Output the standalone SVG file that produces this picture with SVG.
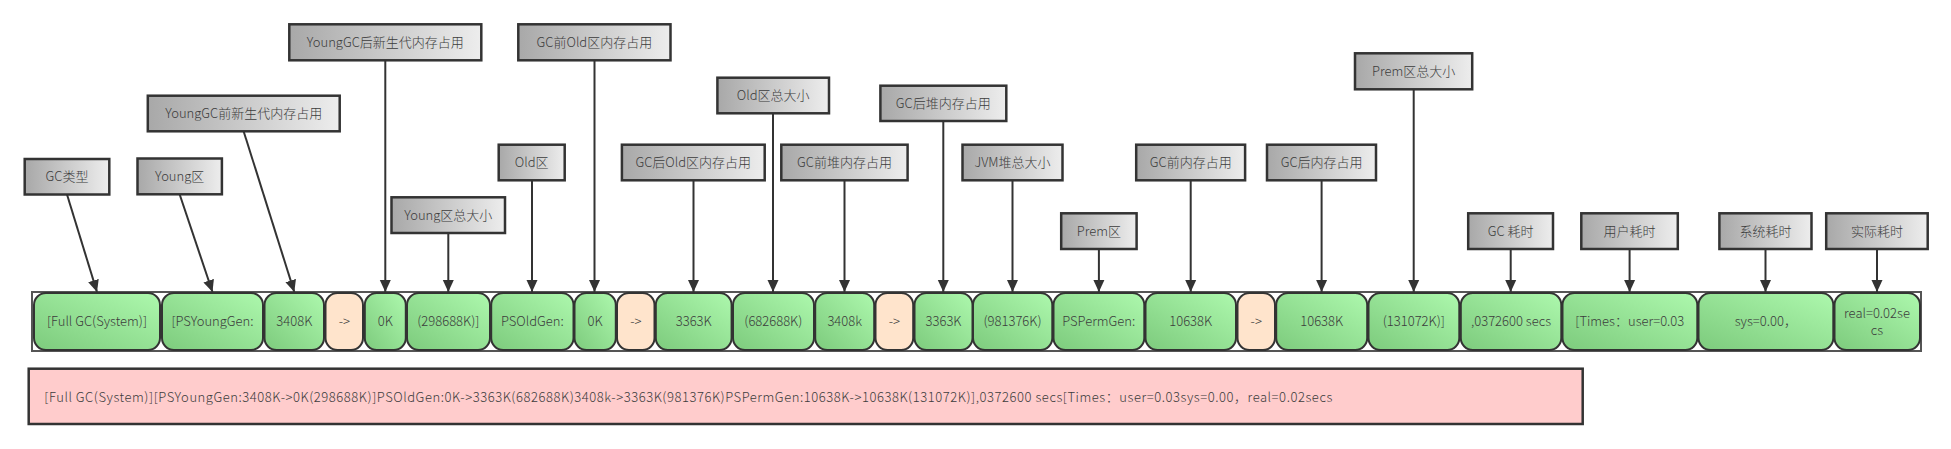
<svg xmlns="http://www.w3.org/2000/svg" width="1951" height="449" viewBox="0 0 1951 449">
<defs>
<linearGradient id="gGreen" x1="0" y1="1" x2="1" y2="0">
<stop offset="0" stop-color="#7dcb7d"/>
<stop offset="1" stop-color="#adf8ad"/>
</linearGradient>
<linearGradient id="gGray" x1="0" y1="0.5" x2="1" y2="0.5">
<stop offset="0" stop-color="#a8a8a8"/>
<stop offset="1" stop-color="#ededed"/>
</linearGradient>
<marker id="arr" markerUnits="userSpaceOnUse" markerWidth="12" markerHeight="12" viewBox="0 0 12 12" refX="12" refY="6" orient="auto">
<path d="M0,0.5 L12,6 L0,11.5 z" fill="#333"/>
</marker>
<style>
text{font-family:"Noto Sans CJK SC","Microsoft YaHei",sans-serif;font-size:13px;font-weight:300;fill:#3c3c3c;text-anchor:middle}
.lbl rect{fill:url(#gGray);stroke:#333;stroke-width:2.5}
.nd rect{fill:url(#gGreen);stroke:#333;stroke-width:2}
.nd.op rect{fill:#ffe4cc}
.con line{stroke:#333;stroke-width:2;marker-end:url(#arr)}
</style>
</defs>
<rect width="1951" height="449" fill="#fff"/>
<rect id="strip" x="32" y="292" width="1889" height="59" fill="#fff" stroke="#555" stroke-width="2"/>
<g id="n1" class="nd"><rect x="34" y="293" width="126" height="57" rx="12"/><text x="97" y="326">[Full GC(System)]</text></g>
<g id="n2" class="nd"><rect x="162" y="293" width="101" height="57" rx="12"/><text x="212.5" y="326">[PSYoungGen:</text></g>
<g id="n3" class="nd"><rect x="264.5" y="293" width="59.5" height="57" rx="12"/><text x="294.3" y="326">3408K</text></g>
<g id="n4" class="nd op"><rect x="325.5" y="293" width="37.5" height="57" rx="12"/><text x="344.3" y="326">-&gt;</text></g>
<g id="n5" class="nd"><rect x="364.8" y="293" width="41" height="57" rx="12"/><text x="385.3" y="326">0K</text></g>
<g id="n6" class="nd"><rect x="407" y="293" width="83" height="57" rx="12"/><text x="448.3" y="326">(298688K)]</text></g>
<g id="n7" class="nd"><rect x="491.2" y="293" width="82.3" height="57" rx="12"/><text x="532.3" y="326">PSOldGen:</text></g>
<g id="n8" class="nd"><rect x="574.5" y="293" width="41.3" height="57" rx="12"/><text x="595" y="326">0K</text></g>
<g id="n9" class="nd op"><rect x="617" y="293" width="37.5" height="57" rx="12"/><text x="635.8" y="326">-&gt;</text></g>
<g id="n10" class="nd"><rect x="655.8" y="293" width="75.8" height="57" rx="12"/><text x="693.7" y="326">3363K</text></g>
<g id="n11" class="nd"><rect x="733" y="293" width="81" height="57" rx="12"/><text x="773.3" y="326">(682688K)</text></g>
<g id="n12" class="nd"><rect x="815.2" y="293" width="59" height="57" rx="12"/><text x="844.7" y="326">3408k</text></g>
<g id="n13" class="nd op"><rect x="875.5" y="293" width="37.7" height="57" rx="12"/><text x="894.3" y="326">-&gt;</text></g>
<g id="n14" class="nd"><rect x="914.5" y="293" width="58" height="57" rx="12"/><text x="943.5" y="326">3363K</text></g>
<g id="n15" class="nd"><rect x="973" y="293" width="79.3" height="57" rx="12"/><text x="1012.5" y="326">(981376K)</text></g>
<g id="n16" class="nd"><rect x="1053.5" y="293" width="90.8" height="57" rx="12"/><text x="1098.8" y="326">PSPermGen:</text></g>
<g id="n17" class="nd"><rect x="1145.5" y="293" width="90.5" height="57" rx="12"/><text x="1190.7" y="326">10638K</text></g>
<g id="n18" class="nd op"><rect x="1237.5" y="293" width="37.5" height="57" rx="12"/><text x="1256.2" y="326">-&gt;</text></g>
<g id="n19" class="nd"><rect x="1276.2" y="293" width="91" height="57" rx="12"/><text x="1321.7" y="326">10638K</text></g>
<g id="n20" class="nd"><rect x="1368.5" y="293" width="90.8" height="57" rx="12"/><text x="1413.8" y="326">(131072K)]</text></g>
<g id="n21" class="nd"><rect x="1460.8" y="293" width="100.5" height="57" rx="12"/><text x="1511" y="326">,0372600 secs</text></g>
<g id="n22" class="nd"><rect x="1562.5" y="293" width="134.8" height="57" rx="12"/><text x="1629.8" y="326">[Times：user=0.03</text></g>
<g id="n23" class="nd"><rect x="1698.5" y="293" width="134.8" height="57" rx="12"/><text x="1765.8" y="326">sys=0.00，</text></g>
<g id="n24" class="nd"><rect x="1834.5" y="293" width="85.5" height="57" rx="12"/><text x="1877" y="318">real=0.02se</text><text x="1877" y="335">cs</text></g>

<g id="l1" class="lbl"><rect x="24.7" y="159" width="84.6" height="35.5"/><text x="67" y="181">GC类型</text></g>
<g id="l2" class="lbl"><rect x="137.5" y="158.5" width="84.4" height="35.8"/><text x="179.7" y="181">Young区</text></g>
<g id="l3" class="lbl"><rect x="147.8" y="95.7" width="191.9" height="35.6"/><text x="243.7" y="118">YoungGC前新生代内存占用</text></g>
<g id="l4" class="lbl"><rect x="289.3" y="24.3" width="192" height="36"/><text x="385.3" y="47">YoungGC后新生代内存占用</text></g>
<g id="l5" class="lbl"><rect x="391.5" y="197.3" width="113.5" height="35.7"/><text x="448.3" y="220">Young区总大小</text></g>
<g id="l6" class="lbl"><rect x="498.7" y="144.7" width="66" height="35.6"/><text x="531.7" y="167">Old区</text></g>
<g id="l7" class="lbl"><rect x="518.3" y="24.3" width="152.2" height="36"/><text x="594.4" y="47">GC前Old区内存占用</text></g>
<g id="l8" class="lbl"><rect x="621.9" y="144.7" width="142.8" height="35.6"/><text x="693.3" y="167">GC后Old区内存占用</text></g>
<g id="l9" class="lbl"><rect x="717.4" y="77.7" width="111.6" height="35.6"/><text x="773.2" y="100">Old区总大小</text></g>
<g id="l10" class="lbl"><rect x="781.3" y="144.7" width="126.3" height="35.6"/><text x="844.5" y="167">GC前堆内存占用</text></g>
<g id="l11" class="lbl"><rect x="880.4" y="85.7" width="125.9" height="35.3"/><text x="943.3" y="108">GC后堆内存占用</text></g>
<g id="l12" class="lbl"><rect x="962.5" y="144.7" width="100" height="35.6"/><text x="1012.5" y="167">JVM堆总大小</text></g>
<g id="l13" class="lbl"><rect x="1061.2" y="213.3" width="75.4" height="35.7"/><text x="1098.9" y="236">Prem区</text></g>
<g id="l14" class="lbl"><rect x="1136.2" y="144.7" width="108.9" height="35.6"/><text x="1190.7" y="167">GC前内存占用</text></g>
<g id="l15" class="lbl"><rect x="1267" y="144.7" width="109" height="35.6"/><text x="1321.6" y="167">GC后内存占用</text></g>
<g id="l16" class="lbl"><rect x="1355" y="53.3" width="117.2" height="36"/><text x="1413.7" y="76">Prem区总大小</text></g>
<g id="l17" class="lbl"><rect x="1468.2" y="213.3" width="84.8" height="35.7"/><text x="1510.7" y="236">GC 耗时</text></g>
<g id="l18" class="lbl"><rect x="1581.3" y="213.3" width="96.5" height="35.7"/><text x="1629.6" y="236">用户耗时</text></g>
<g id="l19" class="lbl"><rect x="1719.4" y="213.3" width="92.1" height="35.7"/><text x="1765.5" y="236">系统耗时</text></g>
<g id="l20" class="lbl"><rect x="1826.2" y="213.3" width="101.5" height="35.7"/><text x="1877" y="236">实际耗时</text></g>

<g id="connectors" class="con">
<line x1="67" y1="194.5" x2="97" y2="292"/>
<line x1="179.7" y1="194.5" x2="212.5" y2="292"/>
<line x1="243.7" y1="131.5" x2="294.3" y2="292"/>
<line x1="385.3" y1="60.5" x2="385.3" y2="292"/>
<line x1="448.3" y1="233" x2="448.3" y2="292"/>
<line x1="532" y1="180.5" x2="532" y2="292"/>
<line x1="594.5" y1="60.5" x2="594.5" y2="292"/>
<line x1="693.5" y1="180.5" x2="693.5" y2="292"/>
<line x1="773" y1="113.5" x2="773" y2="292"/>
<line x1="844.5" y1="180.5" x2="844.5" y2="292"/>
<line x1="943.3" y1="121" x2="943.3" y2="292"/>
<line x1="1012.5" y1="180.5" x2="1012.5" y2="292"/>
<line x1="1098.9" y1="249" x2="1098.9" y2="292"/>
<line x1="1190.7" y1="180.5" x2="1190.7" y2="292"/>
<line x1="1321.6" y1="180.5" x2="1321.6" y2="292"/>
<line x1="1413.7" y1="89.5" x2="1413.7" y2="292"/>
<line x1="1510.7" y1="249" x2="1510.7" y2="292"/>
<line x1="1629.6" y1="249" x2="1629.6" y2="292"/>
<line x1="1765.5" y1="249" x2="1765.5" y2="292"/>
<line x1="1877" y1="249" x2="1877" y2="292"/>
</g>

<g id="summary"><rect x="28.7" y="368.7" width="1554" height="55.3" fill="#ffcccc" stroke="#333" stroke-width="2.5"/><text x="44.3" y="402" textLength="1288" lengthAdjust="spacing" style="text-anchor:start">[Full GC(System)][PSYoungGen:3408K-&gt;0K(298688K)]PSOldGen:0K-&gt;3363K(682688K)3408k-&gt;3363K(981376K)PSPermGen:10638K-&gt;10638K(131072K)],0372600 secs[Times：user=0.03sys=0.00，real=0.02secs</text></g>
</svg>
